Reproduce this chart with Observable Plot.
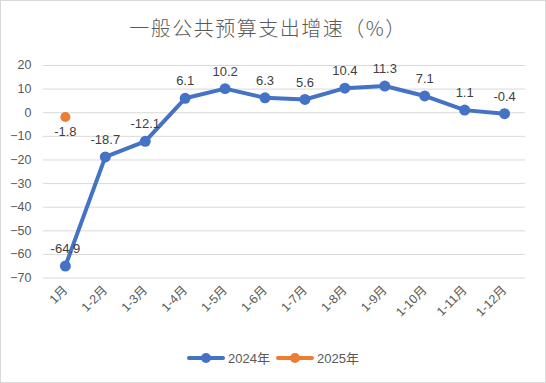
<!DOCTYPE html>
<html><head><meta charset="utf-8">
<script src="https://cdn.jsdelivr.net/npm/d3@7"></script>
<script src="https://cdn.jsdelivr.net/npm/@observablehq/plot@0.6"></script>
<style>
body{margin:0;background:#fff;}
#wrap{position:relative;width:546px;height:383px;box-sizing:border-box;border:1px solid #d9d9d9;background:#fff;font-family:"Liberation Sans","Noto Sans CJK SC",sans-serif;overflow:hidden;}
#title{position:absolute;left:0;top:14px;width:544px;text-align:center;font-family:"Noto Sans CJK SC",sans-serif;font-weight:300;font-size:20px;letter-spacing:1.5px;color:#595959;line-height:26px;padding-right:10px;box-sizing:border-box;}
#chart{position:absolute;left:-1px;top:47px;}
#legend{position:absolute;left:0;top:347px;width:544px;text-align:center;font-size:13px;color:#595959;}
#legend span.item{display:inline-flex;align-items:center;margin:0 3px;}
#legend svg{margin-right:3px;}
</style></head>
<body>
<div id="wrap">
<div id="title">一般公共预算支出增速（%）</div>
<div id="chart"></div>
<div id="legend"></div>
</div>
<script>
const categories = ["1月","1-2月","1-3月","1-4月","1-5月","1-6月","1-7月","1-8月","1-9月","1-10月","1-11月","1-12月"];
const values2024 = [-64.9,-18.7,-12.1,6.1,10.2,6.3,5.6,10.4,11.3,7.1,1.1,-0.4];
const categories2025 = ["1月"];
const values2025 = [-1.8];
const yTicks = [20,10,0,-10,-20,-30,-40,-50,-60,-70];
const seriesNames = ["2024年","2025年"];
const colors = ["#4472C4","#ED7D31"];

const d2024 = categories.map((c,i)=>({x:c,y:values2024[i]}));
const d2025 = categories2025.map((c,i)=>({x:c,y:values2025[i]}));

const chart = Plot.plot({
  width: 546, height: 293,
  marginTop: 17, marginBottom: 63, marginLeft: 43, marginRight: 20,
  style: {fontFamily: '"Liberation Sans","Noto Sans CJK SC",sans-serif', fontSize: "12.5px", color: "#595959", background: "#fff"},
  x: {type: "point", domain: categories, padding: 0.5, label: null, tickSize: 0, tickPadding: 10, tickRotate: -45},
  y: {domain: [-70, 20], ticks: yTicks, label: null, tickSize: 0, tickPadding: 12},
  marks: [
    Plot.gridY(yTicks, {stroke: "#d9d9d9", strokeOpacity: 1}),
    Plot.line(d2024, {x: "x", y: "y", stroke: colors[0], strokeWidth: 4, curve: "linear"}),
    Plot.dot(d2024, {x: "x", y: "y", fill: colors[0], r: 5.5}),
    Plot.dot(d2025, {x: "x", y: "y", fill: colors[1], r: 5}),
    Plot.text(d2024, {x: "x", y: "y", text: d => d.y.toFixed(1), dy: -17, fill: "#404040", fontSize: 13}),
    Plot.text(d2025, {x: "x", y: "y", text: d => d.y.toFixed(1), dy: 15, fill: "#404040", fontSize: 13})
  ]
});
document.getElementById("chart").appendChild(chart);

const leg = document.getElementById("legend");
seriesNames.forEach((n,i)=>{
  const s = document.createElement("span");
  s.className = "item";
  s.innerHTML = `<svg width="38" height="14"><line x1="2" y1="7" x2="36" y2="7" stroke="${colors[i]}" stroke-width="4" stroke-linecap="round"/><circle cx="19" cy="7" r="5" fill="${colors[i]}"/></svg>${n}`;
  leg.appendChild(s);
});
</script>
</body></html>
